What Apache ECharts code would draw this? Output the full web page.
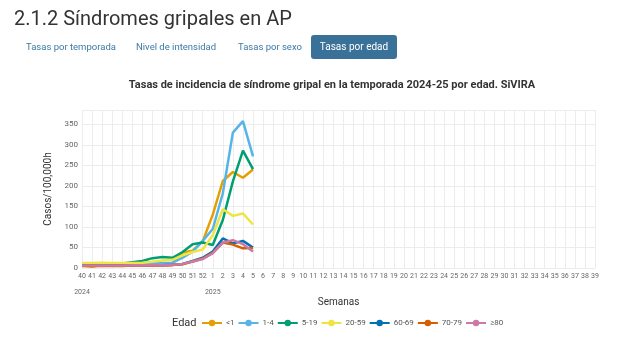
<!DOCTYPE html>
<html><head><meta charset="utf-8">
<script src="https://cdn.jsdelivr.net/npm/echarts@6/dist/echarts.min.js"></script>
<style>
html,body{margin:0;padding:0;background:#fff;width:640px;height:345px;overflow:hidden;font-family:Roboto,"Noto Sans",sans-serif;}
#h{position:absolute;left:14px;top:6px;font-size:20px;color:#333;font-weight:400;}
.tab{position:absolute;top:35px;height:24px;line-height:24px;font-size:9.5px;color:#3b7aa5;white-space:nowrap;}
#act{background:#3a7199;color:#fff;border-radius:3px;width:86px;text-align:center;left:311px;font-size:10px;}
#chart{position:absolute;left:0;top:0;width:640px;height:345px;}
</style></head>
<body>
<div id="chart"></div>
<div id="h">2.1.2 Síndromes gripales en AP</div>
<div class="tab" style="left:26px">Tasas por temporada</div>
<div class="tab" style="left:136px">Nivel de intensidad</div>
<div class="tab" style="left:238px">Tasas por sexo</div>
<div class="tab" id="act">Tasas por edad</div>
<script>
const weeks = ['40','41','42','43','44','45','46','47','48','49','50','51','52','1','2','3','4','5','6','7','8','9','10','11','12','13','14','15','16','17','18','19','20','21','22','23','24','25','26','27','28','29','30','31','32','33','34','35','36','37','38','39'];
const groups = ['<1','1-4','5-19','20-59','60-69','70-79','≥80'];
const colors = ['#E69F00','#56B4E9','#009E73','#F0E442','#0072B2','#D55E00','#CC79A7'];
const lt1   = [6,3,7,6,6,8,8,10,10,12,38,42,65,130,212,234,220,240];
const a1_4  = [9,9,10,9,9,10,11,12,12,13,25,40,66,95,182,330,358,272];
const a5_19 = [8,9,10,10,11,14,17,24,27,25,39,58,62,56,117,211,286,241];
const a20_59= [12,12,13,12,12,12,13,15,18,20,31,39,45,80,143,127,133,106];
const a60_69= [6,6,6,6,6,7,7,7,7,8,10,17,25,40,72,60,66,50];
const a70_79= [5,5,5,5,5,6,6,6,6,7,9,16,23,37,62,57,48,49];
const a80   = [6,6,6,6,6,7,7,7,7,8,10,16,22,36,62,68,58,40];
const values = [lt1,a1_4,a5_19,a20_59,a60_69,a70_79,a80];
const yearLabels = {'40':'2024','1':'2025'};

const chart = echarts.init(document.getElementById('chart'), null, {renderer:'canvas'});
chart.setOption({
  animation:false,
  color: colors,
  title:{text:'Tasas de incidencia de síndrome gripal en la temporada 2024-25 por edad. SiVIRA',
    left:332, textAlign:'center', top:80, padding:0,
    textStyle:{fontSize:11,fontWeight:'bold',color:'#333',fontFamily:'Roboto'}},
  graphic:[{type:'text',left:172,top:318,style:{text:'Edad',fontSize:11,fill:'#333',fontFamily:'Roboto'}}],
  legend:{left:201,top:319,padding:0,itemWidth:20,itemHeight:8,itemGap:3,
    textStyle:{fontSize:8,color:'#555',fontFamily:'Roboto',padding:[0,0,0,-1]},
    data: groups},
  grid:{left:82,right:45,top:110,bottom:77,containLabel:false},
  xAxis:{type:'category',data:weeks,boundaryGap:false,
    name:'Semanas',nameLocation:'middle',nameGap:29,
    nameTextStyle:{fontSize:10,color:'#333',fontFamily:'Roboto'},
    axisLine:{show:false},axisTick:{show:false},
    axisLabel:{interval:0,fontSize:7,color:'#666',margin:4,fontFamily:'Roboto',
      formatter:v=> yearLabels[v] ? v+'\n\n'+yearLabels[v] : v,
      lineHeight:8},
    splitLine:{show:true,lineStyle:{color:'#ececec',width:1}}},
  yAxis:{type:'value',min:0,max:385,interval:50,
    name:'Casos/100,000h',nameLocation:'middle',nameGap:17,
    nameTextStyle:{fontSize:10,color:'#333',fontFamily:'Roboto'},
    axisLine:{show:false},axisTick:{show:false},
    axisLabel:{fontSize:8,color:'#666',margin:4,showMaxLabel:false,fontFamily:'Roboto'},
    splitLine:{lineStyle:{color:'#ececec'}}},
  series: groups.map((g,i)=>({name:g,type:'line',data:values[i],
    symbol:'circle',symbolSize:3,showSymbol:false,
    lineStyle:{width:2.5,color:colors[i]},itemStyle:{color:colors[i]}}))
});
</script>
</body></html>
